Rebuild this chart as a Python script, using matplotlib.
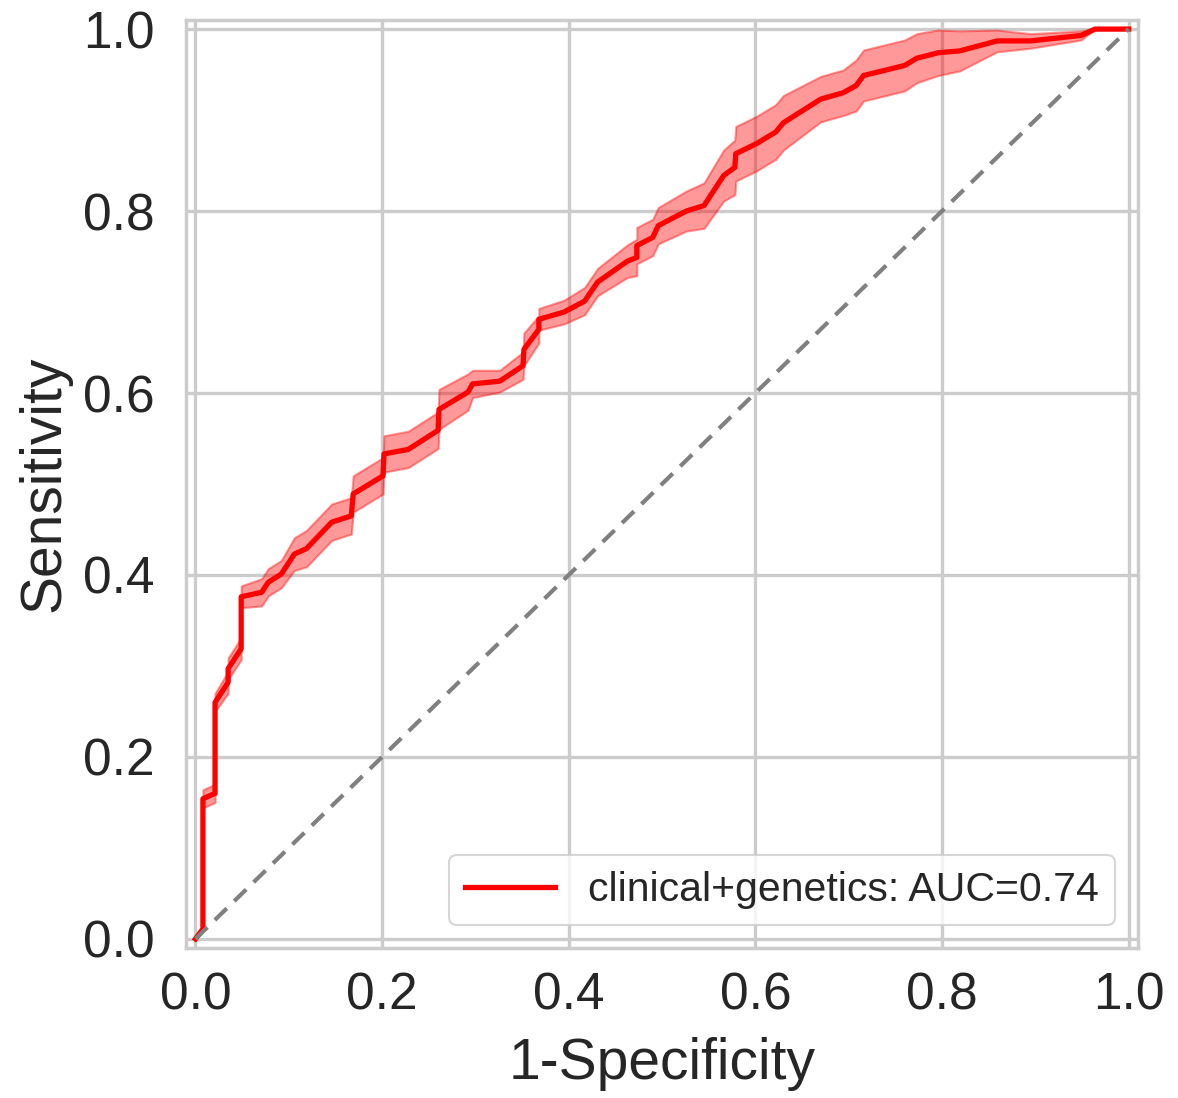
import numpy as np
import matplotlib
matplotlib.use("Agg")
import matplotlib.pyplot as plt

# ROC curve (mean curve + half width of the band)
fpr = [0.0, 0.008, 0.008, 0.021, 0.021, 0.035, 0.035, 0.049, 0.049, 0.071,
       0.078, 0.092, 0.106, 0.119, 0.146, 0.167, 0.169, 0.201, 0.202, 0.228,
       0.26, 0.261, 0.292, 0.297, 0.326, 0.351, 0.352, 0.368, 0.368, 0.395,
       0.417, 0.431, 0.463, 0.473, 0.473, 0.49, 0.496, 0.526, 0.545, 0.566,
       0.578, 0.579, 0.601, 0.622, 0.63, 0.67, 0.694, 0.708, 0.716, 0.76,
       0.773, 0.796, 0.819, 0.859, 0.895, 0.949, 0.964, 1.0]
tpr = [0.0, 0.011, 0.154, 0.16, 0.26, 0.282, 0.297, 0.319, 0.376, 0.381,
       0.392, 0.401, 0.423, 0.429, 0.458, 0.465, 0.489, 0.509, 0.533, 0.538,
       0.559, 0.582, 0.601, 0.61, 0.613, 0.63, 0.648, 0.67, 0.681, 0.689,
       0.701, 0.722, 0.745, 0.749, 0.762, 0.771, 0.784, 0.80, 0.806, 0.839,
       0.848, 0.863, 0.874, 0.887, 0.897, 0.923, 0.93, 0.938, 0.949, 0.96,
       0.968, 0.974, 0.976, 0.987, 0.987, 0.993, 1.0, 1.0]
tpr_err = [0.0, 0.0, 0.01, 0.01, 0.01, 0.012, 0.012, 0.012, 0.012, 0.015,
           0.015, 0.015, 0.018, 0.02, 0.02, 0.02, 0.02, 0.02, 0.02, 0.02,
           0.02, 0.022, 0.02, 0.015, 0.012, 0.015, 0.018, 0.015, 0.012, 0.013,
           0.015, 0.015, 0.018, 0.02, 0.02, 0.02, 0.02, 0.022, 0.025, 0.028,
           0.03, 0.03, 0.03, 0.03, 0.03, 0.025, 0.025, 0.028, 0.028, 0.028,
           0.027, 0.025, 0.022, 0.012, 0.008, 0.005, 0.0, 0.0]
auc = 0.74
label = "clinical+genetics"

plt.rcParams['font.family'] = ['Liberation Sans', 'DejaVu Sans']

fig = plt.figure(figsize=(11.78, 10.98), dpi=100)
ax = fig.add_axes([0.158, 0.1366, 0.808, 0.8452])

tpr = np.array(tpr)
err = np.array(tpr_err)
lo = np.clip(tpr - err, 0, 1)
hi = np.clip(tpr + err, 0, 1)

# mean curve with its band, plus the chance diagonal
ax.fill_between(fpr, lo, hi, color='red', alpha=0.4, lw=1.5)
ax.plot(fpr, tpr, color='red', lw=3.8, label=f"{label}: AUC={auc:.2f}")
ax.plot([0, 1], [0, 1], color='gray', ls='--', lw=3, dashes=(4, 2.5))

ax.set_xlim(-0.01, 1.01)
ax.set_ylim(-0.01, 1.01)
ax.set_xticks(np.arange(0, 1.01, 0.2))
ax.set_yticks(np.arange(0, 1.01, 0.2))
ax.grid(True, color='#cccccc', lw=2.4)
ax.set_axisbelow(True)
for s in ax.spines.values():
    s.set_color('#cccccc')
    s.set_linewidth(2.5)

ax.tick_params(axis='both', length=0, labelsize=37, labelcolor='#262626')
ax.tick_params(axis='y', pad=23)
ax.tick_params(axis='x', pad=17)
ax.set_xlabel("1-Specificity", fontsize=41, color='#262626', labelpad=12)
ax.set_ylabel("Sensitivity", fontsize=41, color='#262626', labelpad=8)

leg = ax.legend(loc='lower right', fontsize=29.5, frameon=True, fancybox=True,
                handlelength=2.2, borderaxespad=0.55)
leg.get_frame().set_edgecolor('#cccccc')
leg.get_frame().set_linewidth(1.5)
for t in leg.get_texts():
    t.set_color('#262626')

fig.savefig("out.png", dpi=100)
